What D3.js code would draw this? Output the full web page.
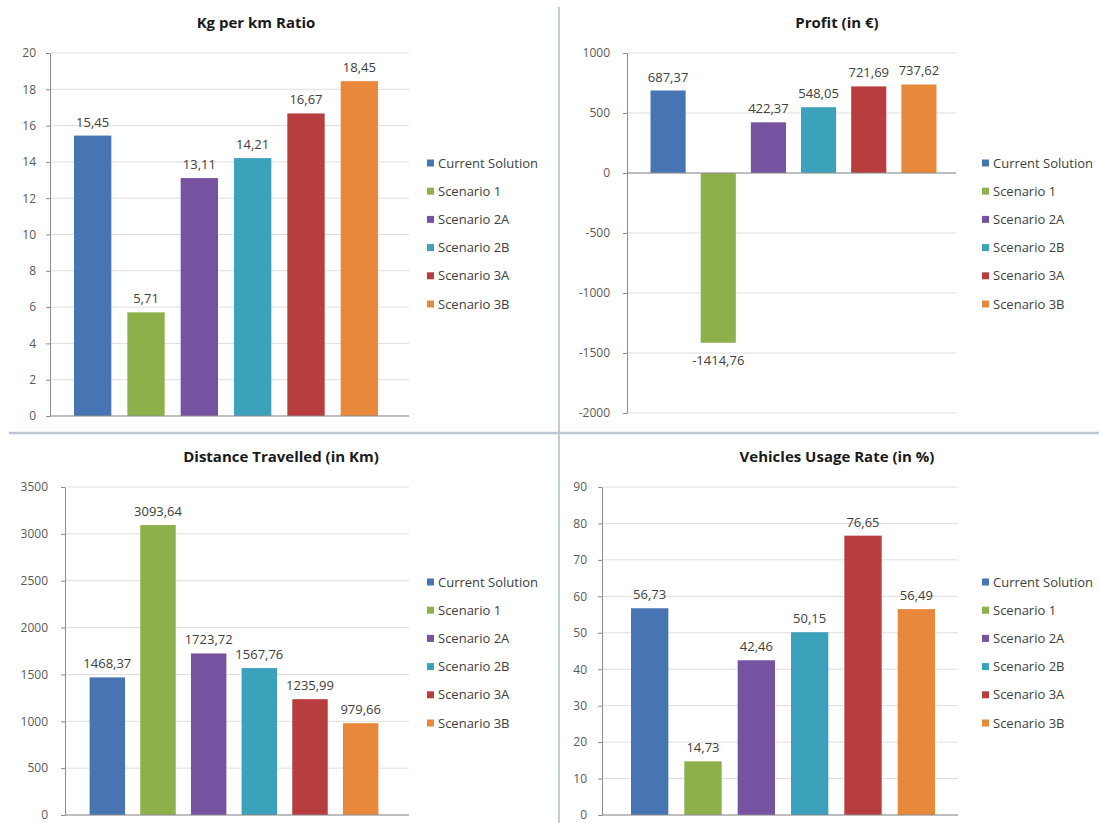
<!DOCTYPE html>
<html>
<head>
<meta charset="utf-8">
<script src="https://cdn.jsdelivr.net/npm/d3@7"></script>
<style>
  body { margin: 0; background: #fff; }
  svg text { font-family: "Open Sans", sans-serif; }
</style>
</head>
<body>
<svg id="chart" width="1099" height="823"></svg>
<script>
// scenario names + colours, shared by all four charts
const scenarios = ["Current Solution", "Scenario 1", "Scenario 2A", "Scenario 2B", "Scenario 3A", "Scenario 3B"];
const scenarioColors = ["#4774b2", "#8db04a", "#7653a1", "#3ca1bb", "#b83d3f", "#e8883a"];

// values per chart
const kgPerKm = [15.45, 5.71, 13.11, 14.21, 16.67, 18.45];
const profit = [687.37, -1414.76, 422.37, 548.05, 721.69, 737.62];
const distance = [1468.37, 3093.64, 1723.72, 1567.76, 1235.99, 979.66];
const usageRate = [56.73, 14.73, 42.46, 50.15, 76.65, 56.49];

// y tick values
const kgTicks = [0, 2, 4, 6, 8, 10, 12, 14, 16, 18, 20];
const profitTicks = [-2000, -1500, -1000, -500, 0, 500, 1000];
const distanceTicks = [0, 500, 1000, 1500, 2000, 2500, 3000, 3500];
const usageTicks = [0, 10, 20, 30, 40, 50, 60, 70, 80, 90];

const panels = [
  { title: "Kg per km Ratio", values: kgPerKm, ticks: kgTicks,
    left: 50, right: 409, top: 53, bottom: 416, band: [66, 386],
    titleX: 256, titleY: 28, legendX: 427, legendY: 163, tickGap: 10 },
  { title: "Profit (in €)", values: profit, ticks: profitTicks,
    left: 627, right: 956, top: 53, bottom: 413, band: [643, 944],
    titleX: 837, titleY: 28, legendX: 982, legendY: 163, tickGap: 13 },
  { title: "Distance Travelled (in Km)", values: distance, ticks: distanceTicks,
    left: 65, right: 409, top: 487, bottom: 815, band: [82, 386],
    titleX: 281, titleY: 462, legendX: 427, legendY: 582, tickGap: 13 },
  { title: "Vehicles Usage Rate (in %)", values: usageRate, ticks: usageTicks,
    left: 602, right: 958, top: 487, bottom: 815, band: [623, 943],
    titleX: 837, titleY: 462, legendX: 982, legendY: 582, tickGap: 11 }
];

const svg = d3.select("#chart");

// panel dividers
svg.append("line")
  .attr("x1", 559).attr("x2", 559).attr("y1", 7).attr("y2", 823)
  .attr("stroke", "#a9bcd2").attr("stroke-width", 1.5);
svg.append("line")
  .attr("x1", 9).attr("x2", 1099).attr("y1", 433).attr("y2", 433)
  .attr("stroke", "#bcc7d3").attr("stroke-width", 2.5);

const fmt = v => v.toFixed(2).replace(".", ",");

function drawPanel(p) {
  const g = svg.append("g");
  const ext = d3.extent(p.ticks);
  const y = d3.scaleLinear().domain(ext).range([p.bottom, p.top]);
  const x = d3.scaleBand().domain(scenarios).range(p.band)
    .paddingInner(0.3).paddingOuter(0.15);

  // gridlines
  g.append("g").selectAll("line")
    .data(p.ticks)
    .join("line")
    .attr("x1", p.left).attr("x2", p.right)
    .attr("y1", d => y(d)).attr("y2", d => y(d))
    .attr("stroke", "#dedede");

  const axis = g.append("g")
    .attr("transform", `translate(${p.left},0)`)
    .call(d3.axisLeft(y).tickValues(p.ticks).tickSize(4).tickSizeOuter(0)
      .tickPadding(p.tickGap).tickFormat(d => String(d)));
  axis.select(".domain").attr("stroke", "#8c8c8c");
  axis.selectAll(".tick line").attr("stroke", "#8c8c8c");
  axis.selectAll("text").attr("fill", "#595959").style("font-size", "12px");

  g.selectAll("rect.bar")
    .data(p.values)
    .join("rect")
    .attr("class", "bar")
    .attr("x", (d, i) => x(scenarios[i]))
    .attr("width", x.bandwidth())
    .attr("y", d => y(Math.max(0, d)))
    .attr("height", d => Math.abs(y(d) - y(0)))
    .attr("fill", (d, i) => scenarioColors[i]);

  // category axis line at zero
  g.append("line")
    .attr("x1", p.left).attr("x2", p.right)
    .attr("y1", y(0)).attr("y2", y(0))
    .attr("stroke", "#8c8c8c");

  // data labels
  g.selectAll("text.val")
    .data(p.values)
    .join("text")
    .attr("class", "val")
    .attr("x", (d, i) => x(scenarios[i]) + x.bandwidth() / 2)
    .attr("y", d => d >= 0 ? y(d) - 9 : y(d) + 22)
    .attr("text-anchor", "middle")
    .attr("fill", "#404040")
    .style("font-size", "13px")
    .text(d => fmt(d));

  g.append("text")
    .attr("x", p.titleX).attr("y", p.titleY)
    .attr("text-anchor", "middle")
    .style("font-size", "15px").style("font-weight", "700")
    .attr("fill", "#1a1a1a")
    .text(p.title);

  // legend
  const leg = g.append("g").selectAll("g")
    .data(scenarios)
    .join("g")
    .attr("transform", (d, i) => `translate(${p.legendX},${p.legendY + i * 28.2})`);
  leg.append("rect")
    .attr("x", 0).attr("y", -3.5).attr("width", 7).attr("height", 7)
    .attr("fill", (d, i) => scenarioColors[i]);
  leg.append("text")
    .attr("x", 11).attr("y", 4.5)
    .attr("fill", "#404040")
    .style("font-size", "13px")
    .text(d => d);
}

panels.forEach(drawPanel);
</script>
</body>
</html>
